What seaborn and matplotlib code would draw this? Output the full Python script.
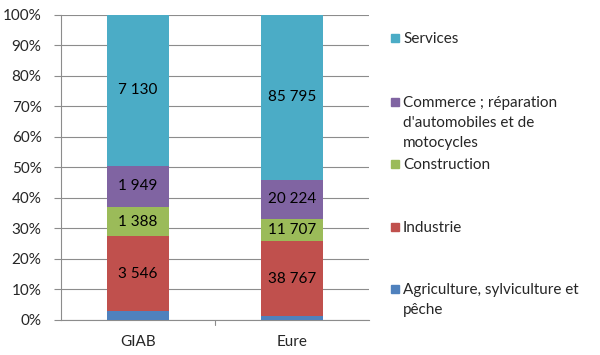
import numpy as np
import pandas as pd
import matplotlib
matplotlib.use("Agg")
import matplotlib.pyplot as plt
import matplotlib.ticker as mtick
from matplotlib.patches import Rectangle
import seaborn as sns

# data
zones = ["GIAB", "Eure"]
sectors = ["Agriculture, sylviculture et\npêche", "Industrie", "Construction",
           "Commerce ; réparation\nd'automobiles et de\nmotocycles", "Services"]
agriculture = [390, 1950]
industrie = [3546, 38767]
construction = [1388, 11707]
commerce = [1949, 20224]
services = [7130, 85795]
colors = ["#4F81BD", "#C0504D", "#9BBB59", "#8064A2", "#4BACC6"]

counts = np.array([agriculture, industrie, construction, commerce, services], dtype=float)
shares = counts / counts.sum(axis=0)
cum = shares.cumsum(axis=0)

sns.set_theme(style="white")
plt.rcParams["font.family"] = ["Lato", "DejaVu Sans"]

fig = plt.figure(figsize=(6, 3.55), dpi=100)
ax = fig.add_axes([61 / 600, 1 - 319.5 / 355, 308 / 600, 304.5 / 355])

# stacked bars: draw cumulative heights from the top segment down
for i in range(len(sectors) - 1, -1, -1):
    df = pd.DataFrame({"zone": zones, "value": cum[i]})
    sns.barplot(data=df, x="zone", y="value", color=colors[i], width=0.4,
                saturation=1, ax=ax, zorder=3, edgecolor="none")

# value labels (not for agriculture)
for i in range(1, len(sectors)):
    for j in range(len(zones)):
        mid = cum[i, j] - shares[i, j] / 2
        txt = f"{int(counts[i, j]):,}".replace(",", " ")
        ax.text(j, mid, txt, ha="center", va="center", fontsize=11, color="black", zorder=5)

ax.set_xlim(-0.5, 1.5)
ax.set_ylim(0, 1)
ax.yaxis.set_major_locator(mtick.MultipleLocator(0.1))
ax.yaxis.set_major_formatter(mtick.PercentFormatter(1.0, decimals=0))
ax.set_xlabel("")
ax.set_ylabel("")
ax.grid(axis="y", color="#8c8c8c", linewidth=0.8, zorder=0)
ax.set_axisbelow(True)
for s in ["top", "right"]:
    ax.spines[s].set_visible(False)
for s in ["left", "bottom"]:
    ax.spines[s].set_color("#8c8c8c")
    ax.spines[s].set_linewidth(0.8)
ax.tick_params(axis="y", left=True, length=5, width=0.8, color="#8c8c8c", labelsize=11, pad=9)
ax.tick_params(axis="x", bottom=False, labelsize=11, pad=5)
# category boundary tick in the middle
ax.plot([0.5, 0.5], [0, -0.017], color="#8c8c8c", lw=0.8, clip_on=False,
        transform=ax.transData)

# legend drawn by hand to mimic spreadsheet layout
leg_y = [38, 102, 164, 227, 289]
order = [4, 3, 2, 1, 0]
for yy, i in zip(leg_y, order):
    fig.patches.append(Rectangle((391 / 600, 1 - (yy + 4) / 355), 8 / 600, 8 / 355,
                                 transform=fig.transFigure, color=colors[i]))
    fig.text(403 / 600, 1 - (yy - 6) / 355, sectors[i], ha="left", va="top",
             fontsize=11, linespacing=1.55)

fig.savefig("out.png", dpi=100)
